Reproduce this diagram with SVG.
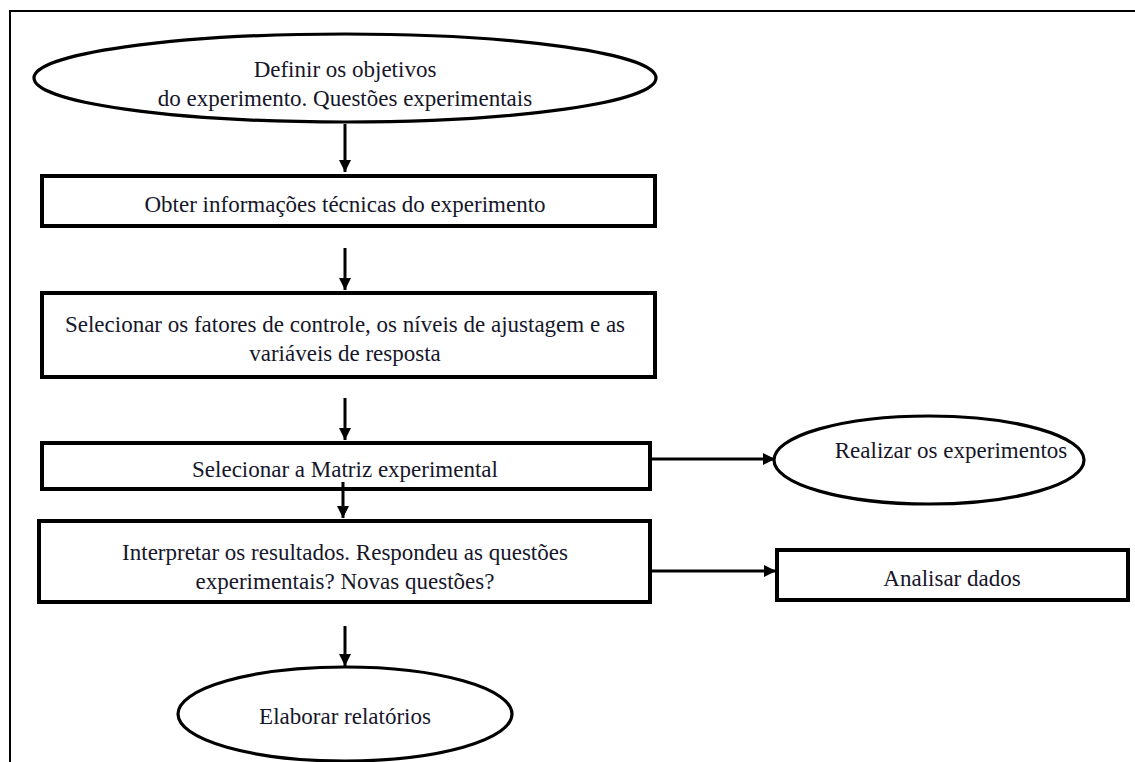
<svg xmlns="http://www.w3.org/2000/svg" width="1135" height="762" viewBox="0 0 1135 762">
  <defs>
    <marker id="arrow" viewBox="0 0 10 10" refX="10" refY="5" markerWidth="4" markerHeight="4" orient="auto" markerUnits="strokeWidth">
      <path d="M0,0 L10,5 L0,10 Z" fill="#000"/>
    </marker>
    <style>
      .box { fill: #fff; stroke: #000; stroke-width: 4; }
      .oval { fill: #fff; stroke: #000; stroke-width: 3.2; }
      .edge { stroke: #000; stroke-width: 3; fill: none; marker-end: url(#arrow); }
      .frame { stroke: #000; stroke-width: 2; fill: none; }
      .lbl { font-size: 23px; fill: #16162a; text-anchor: middle; }
    </style>
  </defs>

  <rect width="1135" height="762" fill="#fff"/>

  <!-- page frame (top and left rules) -->
  <path class="frame" d="M10,762 L10,11 L1135,11"/>

  <g font-family="Liberation Serif, DejaVu Serif, serif">
  <g id="n-objetivos">
    <ellipse class="oval" cx="345" cy="78" rx="311" ry="44"/>
    <text class="lbl" x="345" y="77">Definir os objetivos</text>
    <text class="lbl" x="345" y="106">do experimento. Questões experimentais</text>
  </g>

  <g id="n-informacoes">
    <rect class="box" x="42" y="176" width="613" height="50"/>
    <text class="lbl" x="345" y="212">Obter informações técnicas do experimento</text>
  </g>

  <g id="n-fatores">
    <rect class="box" x="42" y="293" width="613" height="84"/>
    <text class="lbl" x="345" y="332">Selecionar os fatores de controle, os níveis de ajustagem e as</text>
    <text class="lbl" x="345" y="361">variáveis de resposta</text>
  </g>

  <g id="n-matriz">
    <rect class="box" x="42" y="443" width="608" height="46"/>
    <text class="lbl" x="345" y="477">Selecionar a Matriz experimental</text>
  </g>

  <g id="n-interpretar">
    <rect class="box" x="39" y="521" width="611" height="81"/>
    <text class="lbl" x="345" y="560">Interpretar os resultados. Respondeu as questões</text>
    <text class="lbl" x="345" y="589">experimentais? Novas questões?</text>
  </g>

  <g id="n-relatorios">
    <ellipse class="oval" cx="345" cy="714" rx="167" ry="47"/>
    <text class="lbl" x="345" y="724">Elaborar relatórios</text>
  </g>

  <g id="n-realizar">
    <ellipse class="oval" cx="929" cy="460" rx="155" ry="44"/>
    <text class="lbl" x="951" y="458">Realizar os experimentos</text>
  </g>

  <g id="n-analisar">
    <rect class="box" x="777" y="550" width="351" height="50"/>
    <text class="lbl" x="952" y="586">Analisar dados</text>
  </g>
  </g>

  <g id="connectors">
    <line class="edge" x1="345" y1="124" x2="345" y2="172"/>
    <line class="edge" x1="345" y1="248" x2="345" y2="290"/>
    <line class="edge" x1="345" y1="398" x2="345" y2="440"/>
    <line class="edge" x1="343" y1="482" x2="343" y2="518"/>
    <line class="edge" x1="345" y1="626" x2="345" y2="666"/>
    <line class="edge" x1="652" y1="459" x2="775" y2="459"/>
    <line class="edge" x1="652" y1="571" x2="776" y2="571"/>
  </g>
</svg>
